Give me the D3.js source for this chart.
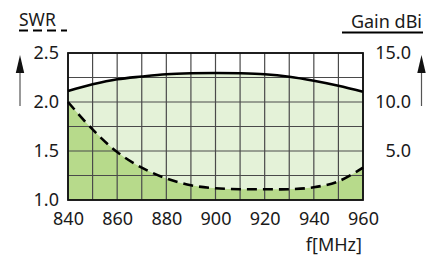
<!DOCTYPE html>
<html><head><meta charset="utf-8">
<script src="https://cdn.jsdelivr.net/npm/d3@7"></script>
<style>html,body{margin:0;padding:0;background:#fff;}svg{display:block;}</style>
</head><body>
<svg id="c" width="431" height="258"></svg>
<script>
const freq = [840,850,860,870,880,890,900,910,920,930,940,950,960];
const swr  = [2.0,1.72,1.49,1.33,1.22,1.15,1.12,1.11,1.11,1.11,1.13,1.19,1.33];
const gain = [11.12,11.8,12.32,12.6,12.83,12.93,12.96,12.93,12.83,12.58,12.17,11.66,11.05];
const xTicks = [840,860,880,900,920,940,960];
const swrTicks = [1.0,1.5,2.0,2.5];
const gainTicks = [5.0,10.0,15.0];

const svg = d3.select("#c");
const L=68, R=363, T=53, B=200;
const x = d3.scaleLinear().domain([840,960]).range([L,R]);
const yS = d3.scaleLinear().domain([1.0,2.5]).range([B,T]);
const yG = d3.scaleLinear().domain([0,15]).range([B,T]);
const font = "'Noto Sans', sans-serif";
const curve = d3.curveCatmullRom;
const pts = freq.map((f,i)=>({f, s:swr[i], g:gain[i]}));

// fills
svg.append("path").datum(pts)
  .attr("d", d3.area().x(d=>x(d.f)).y0(B).y1(d=>yG(d.g)).curve(curve))
  .attr("fill","#e4f2d8");
svg.append("path").datum(pts)
  .attr("d", d3.area().x(d=>x(d.f)).y0(B).y1(d=>yS(d.s)).curve(curve))
  .attr("fill","#b7da8b");

// grid
const g = svg.append("g");
g.selectAll("line.v").data(d3.range(840,961,10)).join("line")
  .attr("x1",d=>x(d)).attr("x2",d=>x(d)).attr("y1",T).attr("y2",B)
  .attr("stroke","#4a4a4a").attr("stroke-width",1.2);
g.selectAll("line.h").data(d3.range(1.0,2.51,0.25)).join("line")
  .attr("y1",d=>yS(d)).attr("y2",d=>yS(d)).attr("x1",L).attr("x2",R)
  .attr("stroke","#4a4a4a").attr("stroke-width",1.2);
svg.append("rect").attr("x",L).attr("y",T).attr("width",R-L).attr("height",B-T)
  .attr("fill","none").attr("stroke","#111").attr("stroke-width",1.8);

// curves
svg.append("path").datum(pts)
  .attr("d", d3.line().x(d=>x(d.f)).y(d=>yG(d.g)).curve(curve))
  .attr("fill","none").attr("stroke","#000").attr("stroke-width",2.6);
svg.append("path").datum(pts)
  .attr("d", d3.line().x(d=>x(d.f)).y(d=>yS(d.s)).curve(curve))
  .attr("fill","none").attr("stroke","#000").attr("stroke-width",2.6)
  .attr("stroke-dasharray","10,6");

// axes labels
const axL = svg.append("g").attr("transform",`translate(${L},0)`)
  .call(d3.axisLeft(yS).tickValues(swrTicks).tickFormat(d3.format(".1f")).tickSize(0).tickPadding(9));
const axR = svg.append("g").attr("transform",`translate(${R},0)`)
  .call(d3.axisRight(yG).tickValues(gainTicks).tickFormat(d3.format(".1f")).tickSize(0).tickPadding(10));
const axB = svg.append("g").attr("transform",`translate(0,${B})`)
  .call(d3.axisBottom(x).tickValues(xTicks).tickFormat(d3.format("d")).tickSize(0).tickPadding(12));
[axL,axR,axB].forEach(a=>{a.select(".domain").remove();
  a.selectAll("text").attr("font-family",font).attr("font-size",18).attr("fill","#1a1a1a");});
axR.selectAll("text").attr("text-anchor","end").attr("x",411-R);

// titles
svg.append("text").attr("x",19).attr("y",26).text("SWR")
  .attr("font-family",font).attr("font-size",17.5).attr("fill","#1a1a1a");
svg.append("line").attr("x1",19).attr("x2",67).attr("y1",30.5).attr("y2",30.5)
  .attr("stroke","#000").attr("stroke-width",2).attr("stroke-dasharray","9,5");
svg.append("text").attr("x",422).attr("y",28).attr("text-anchor","end").text("Gain dBi")
  .attr("font-family",font).attr("font-size",18).attr("fill","#1a1a1a");
svg.append("line").attr("x1",342).attr("x2",423).attr("y1",32.5).attr("y2",32.5)
  .attr("stroke","#000").attr("stroke-width",2);
svg.append("text").attr("x",362).attr("y",251).attr("text-anchor","end").text("f[MHz]")
  .attr("font-family",font).attr("font-size",18).attr("fill","#1a1a1a");

// arrows
function arrow(cx){
  svg.append("line").attr("x1",cx).attr("x2",cx).attr("y1",106).attr("y2",70)
    .attr("stroke","#555").attr("stroke-width",1.2);
  svg.append("path").attr("d",`M${cx},55 L${cx-4.2},73 L${cx+4.2},73 Z`).attr("fill","#111");
}
arrow(20); arrow(421.5);
</script>
</body></html>
